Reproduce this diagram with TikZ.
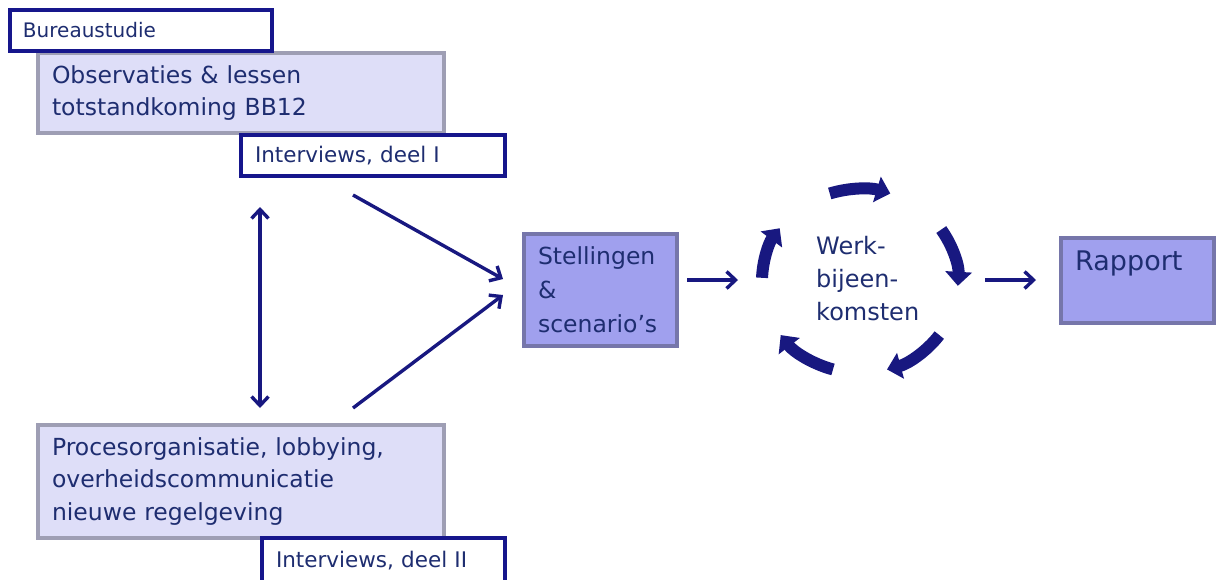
\documentclass[tikz,border=0pt]{standalone}
\usepackage{fontspec}
\setmainfont{DejaVu Sans}
\usetikzlibrary{arrows.meta}
\definecolor{txt}{RGB}{30,45,112}
\definecolor{navy}{RGB}{22,22,140}
\definecolor{lightfill}{RGB}{222,222,248}
\definecolor{lightborder}{RGB}{158,158,180}
\definecolor{midfill}{RGB}{160,160,238}
\definecolor{midborder}{RGB}{118,118,170}
\definecolor{arrc}{RGB}{24,24,128}
\begin{document}
\begin{tikzpicture}[x=1pt,y=-1pt,
  labelbox/.style={draw=navy, line width=3.2pt, fill=white, text=txt, align=left, inner xsep=12pt, inner ysep=0pt, font=\fontsize{20}{24}\selectfont},
  lightbox/.style={draw=lightborder, line width=3.2pt, fill=lightfill, text=txt, align=left, inner xsep=13pt, inner ysep=0pt, font=\fontsize{23.5}{32.5}\selectfont},
  midbox/.style={draw=midborder, line width=3.2pt, fill=midfill, text=txt, align=left, inner xsep=13pt, inner ysep=0pt, font=\fontsize{23.5}{34}\selectfont},
  arr/.style={draw=arrc, line width=3.4pt, -{Straight Barb[length=9pt,width=17pt]}},
  darr/.style={draw=arrc, line width=3.4pt, {Straight Barb[length=9pt,width=17pt]}-{Straight Barb[length=9pt,width=17pt]}},
  cyc/.style={draw=arrc, line width=12pt, -{Triangle[length=14pt,width=26pt]}}
]
\useasboundingbox (0,0) rectangle (1220,579);

% boxes
\node[lightbox, minimum width=406pt, minimum height=80pt, text width=378pt] (obs) at (241,93)
  {Observaties \& lessen\\totstandkoming BB12};
\node[labelbox, minimum width=262pt, minimum height=41pt, text width=236pt] (bureau) at (141,30.5) {Bureaustudie};
\node[labelbox, minimum width=264pt, minimum height=41pt, text width=236pt, font=\fontsize{21.5}{26}\selectfont] (int1) at (373,155.5) {Interviews, deel I};

\node[lightbox, minimum width=406pt, minimum height=113pt, text width=378pt] (proc) at (241,481.5)
  {Procesorganisatie, lobbying,\\overheidscommunicatie\\nieuwe regelgeving};
\node[labelbox, minimum width=243pt, minimum height=45pt, text width=215pt, font=\fontsize{21.5}{26}\selectfont] (int2) at (383.5,560.5) {Interviews, deel II};

\node[midbox, minimum width=153pt, minimum height=112pt, text width=125pt] (stel) at (600.5,290)
  {Stellingen\\\&\\scenario’s};

\node[midbox, minimum width=153pt, minimum height=85pt] (rap) at (1137.5,280.5) {};
\node[text=txt, anchor=west, font=\fontsize{27}{32}\selectfont, inner sep=0pt] (raptxt) at (1075,263) {Rapport};

\node[text=txt, align=left, anchor=west, font=\fontsize{24}{33}\selectfont, inner sep=0pt] (werk) at (816,279)
  {Werk-\\bijeen-\\komsten};

% connectors
\coordinate (vtop) at (260,207);
\coordinate (vbot) at (260,408);
\draw[darr] (vtop) -- (vbot);

\coordinate (d1s) at (353,195);
\coordinate (d1e) at (503,279);
\coordinate (d2s) at (353,408);
\coordinate (d2e) at (503,295);
\draw[arr] (d1s) -- (d1e);
\draw[arr] (d2s) -- (d2e);

\coordinate (h1s) at (687,280);
\coordinate (h1e) at (738,280);
\draw[arr] (h1s) -- (h1e);

\coordinate (h2s) at (985,280);
\coordinate (h2e) at (1036,280);
\draw[arr] (h2s) -- (h2e);

% cycle arrows
\coordinate (cc) at (860,281);
\foreach \a/\b in {108/72, 34/-3, -36/-74, -106/-144, 178/145}{
  \draw[cyc] (cc) ++(\a:98pt and 92pt) arc[start angle=\a, end angle=\b, x radius=98pt, y radius=92pt];
}
\end{tikzpicture}
\end{document}
